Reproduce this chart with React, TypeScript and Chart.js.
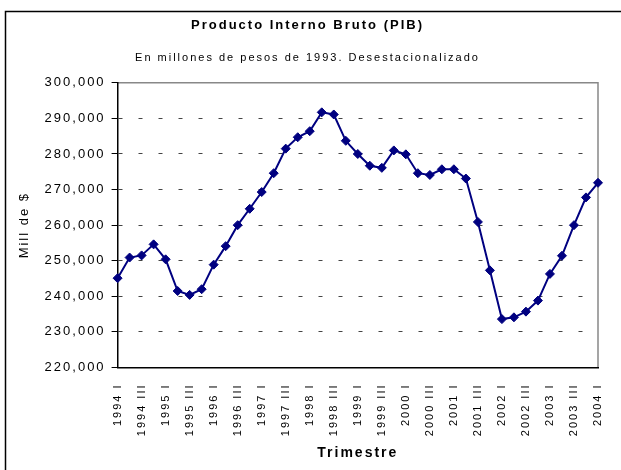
import React, { useEffect, useRef } from "react";
import { Chart, registerables } from "chart.js";

Chart.register(...registerables);

const years = ["1994","1995","1996","1997","1998","1999","2000","2001","2002","2003","2004"];
const quarters = ["I", "II", "III", "IV"];
const categories: string[] = [];
years.forEach((y) => quarters.forEach((q) => categories.push(`${y} ${q}`)));
const labels = categories.slice(0, 41);

const pibValues = [
  245100, 250900, 251500, 254600, 250400, 241500, 240400, 242000,
  248900, 254100, 260000, 264600, 269300, 274600, 281500, 284700,
  286400, 291700, 291100, 283700, 280000, 276700, 276100, 281000,
  279900, 274600, 274100, 275700, 275700, 273100, 260900, 247300,
  233600, 234100, 235700, 238800, 246300, 251400, 260000, 267800, 271900,
];

const yTicks = [220000, 230000, 240000, 250000, 260000, 270000, 280000, 290000, 300000];

const FONT = "'Liberation Sans', Arial, sans-serif";
const SPACING = "2px";

const spacingPlugin = {
  id: "spacing",
  beforeLayout(chart: any) {
    chart.ctx.letterSpacing = SPACING;
  },
  beforeDraw(chart: any) {
    const ctx = chart.ctx;
    ctx.letterSpacing = SPACING;
    ctx.save();
    ctx.fillStyle = "#ffffff";
    ctx.fillRect(0, 0, chart.width, chart.height);
    ctx.strokeStyle = "#000000";
    ctx.lineWidth = 1.5;
    ctx.strokeRect(5.5, 11.5, chart.width + 20, chart.height + 20);
    const a = chart.chartArea;
    ctx.strokeStyle = "#888888";
    ctx.lineWidth = 1.5;
    ctx.beginPath();
    ctx.moveTo(a.left, a.top);
    ctx.lineTo(a.right, a.top);
    ctx.lineTo(a.right, a.bottom);
    ctx.stroke();
    ctx.restore();
  },
};

export default function App() {
  const ref = useRef<HTMLCanvasElement | null>(null);
  useEffect(() => {
    if (!ref.current) return;
    const chart = new Chart(ref.current, {
      type: "line",
      data: {
        labels,
        datasets: [
          {
            data: pibValues,
            borderColor: "#000080",
            backgroundColor: "#000080",
            borderWidth: 2,
            pointStyle: "rectRot",
            pointRadius: 4.5,
            pointBorderWidth: 1,
            tension: 0,
          },
        ],
      },
      options: {
        animation: false,
        responsive: false,
        layout: { padding: { top: 12, left: 17, right: 23, bottom: 8 } },
        plugins: {
          legend: { display: false },
          tooltip: { enabled: false },
          title: {
            display: true,
            text: "Producto Interno Bruto (PIB)",
            color: "#000",
            font: { family: FONT, size: 13, weight: "bold" },
            padding: { top: 6, bottom: 18 },
          },
          subtitle: {
            display: true,
            text: "En millones de pesos de 1993. Desestacionalizado",
            color: "#000",
            font: { family: FONT, size: 11 },
            padding: { top: 0, bottom: 18 },
          },
        },
        scales: {
          x: {
            type: "category",
            offset: false,
            afterFit: (axis: any) => {
              axis.paddingRight = 0;
              axis.paddingLeft = 0;
            },
            grid: { display: false, drawTicks: false },
            border: { display: true, color: "#000", width: 1.5 },
            ticks: {
              autoSkip: false,
              maxRotation: 90,
              minRotation: 90,
              padding: 16,
              color: "#000",
              font: { family: FONT, size: 11 },
              callback: (_v: any, i: number) => (i % 2 === 0 ? labels[i] : ""),
            },
            title: {
              display: true,
              text: "Trimestre",
              color: "#000",
              font: { family: FONT, size: 14, weight: "bold" },
              padding: { top: -7, bottom: 0 },
            },
          },
          y: {
            min: yTicks[0],
            max: yTicks[yTicks.length - 1],
            afterBuildTicks: (axis: any) => {
              axis.ticks = yTicks.map((v) => ({ value: v }));
            },
            grid: {
              color: (c: any) => (c.tick && (c.tick.value === 300000 || c.tick.value === 220000) ? "rgba(0,0,0,0)" : "#444"),
              lineWidth: 1,
              tickColor: "#000",
              tickBorderDash: [],
              tickLength: 6,
              drawTicks: true,
            },
            border: { display: true, color: "#000", width: 1.5, dash: [4, 16] },
            ticks: {
              color: "#000",
              padding: 6,
              font: { family: FONT, size: 13 },
              callback: (v: any) => Number(v).toLocaleString("en-US"),
            },
            title: {
              display: true,
              text: "Mill de $",
              color: "#000",
              font: { family: FONT, size: 13 },
              padding: { top: 0, bottom: 6 },
            },
          },
        },
      },
      plugins: [spacingPlugin],
    });
    return () => chart.destroy();
  }, []);
  return (
    <div style={{ position: "fixed", left: 0, top: 0, width: 621, height: 470 }}>
      <canvas ref={ref} width={621} height={470} style={{ display: "block" }} />
    </div>
  );
}
